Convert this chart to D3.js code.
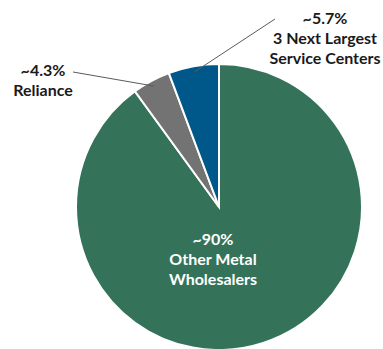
<!DOCTYPE html>
<html>
<head>
<meta charset="utf-8">
<script src="https://cdn.jsdelivr.net/npm/d3@7"></script>
<style>
  html, body { margin: 0; padding: 0; background: #fff; }
  svg { display: block; }
</style>
</head>
<body>
<div id="container"></div>
<script>
/* CONSTANTS AND GLOBALS */
const width = 383,
  height = 349,
  cx = 219,
  cy = 207,
  radius = 143;

/* DATA */
const categories = ["Other Metal Wholesalers", "Reliance", "3 Next Largest Service Centers"];
const shares = [90, 4.3, 5.7];
const pctLabels = ["~90%", "~4.3%", "~5.7%"];
const labelLines = [["Other Metal", "Wholesalers"], ["Reliance"], ["3 Next Largest", "Service Centers"]];
const colors = ["#34735a", "#737373", "#00578a"];

// label anchor positions (text placement, not data)
const labelPos = [
  { x: 213, y: 245, fill: "#fff" },
  { x: 43, y: 76, fill: "#1a1a1a", lx: 73, ly: 72 },
  { x: 325, y: 24, fill: "#1a1a1a", lx: 275, ly: 19 }
];

const data = categories.map((c, i) => ({ name: c, value: shares[i], pct: pctLabels[i], lines: labelLines[i], color: colors[i] }));

/* SCALES / LAYOUT */
const pie = d3.pie().sort(null).value(d => d.value);
const arc = d3.arc().innerRadius(0).outerRadius(radius);
const arcs = pie(data);

/* HTML ELEMENTS */
const svg = d3.select("#container")
  .append("svg")
  .attr("width", width)
  .attr("height", height);

const g = svg.append("g")
  .attr("transform", `translate(${cx},${cy})`);

g.selectAll(".slice")
  .data(arcs)
  .join("path")
  .attr("class", "slice")
  .attr("d", arc)
  .attr("fill", d => d.data.color)
  .attr("stroke", "#fff")
  .attr("stroke-width", 2);

// leader lines for the small slices
const innerPt = d3.arc().innerRadius(radius * 0.96).outerRadius(radius * 0.96);
arcs.forEach((a, i) => {
  const p = labelPos[i];
  if (p.lx === undefined) return;
  const c = innerPt.centroid(a);
  svg.append("line")
    .attr("x1", p.lx).attr("y1", p.ly)
    .attr("x2", cx + c[0]).attr("y2", cy + c[1])
    .attr("stroke", "#5a5a5a")
    .attr("stroke-width", 1);
});

// labels
arcs.forEach((a, i) => {
  const p = labelPos[i];
  const t = svg.append("text")
    .attr("x", p.x)
    .attr("y", p.y)
    .attr("text-anchor", "middle")
    .attr("font-family", "Lato, 'Open Sans', sans-serif")
    .attr("font-weight", "bold")
    .attr("font-size", 16)
    .attr("fill", p.fill);
  [a.data.pct].concat(a.data.lines).forEach((line, k) => {
    t.append("tspan")
      .attr("x", p.x)
      .attr("dy", k === 0 ? 0 : 20)
      .text(line);
  });
});
</script>
</body>
</html>
